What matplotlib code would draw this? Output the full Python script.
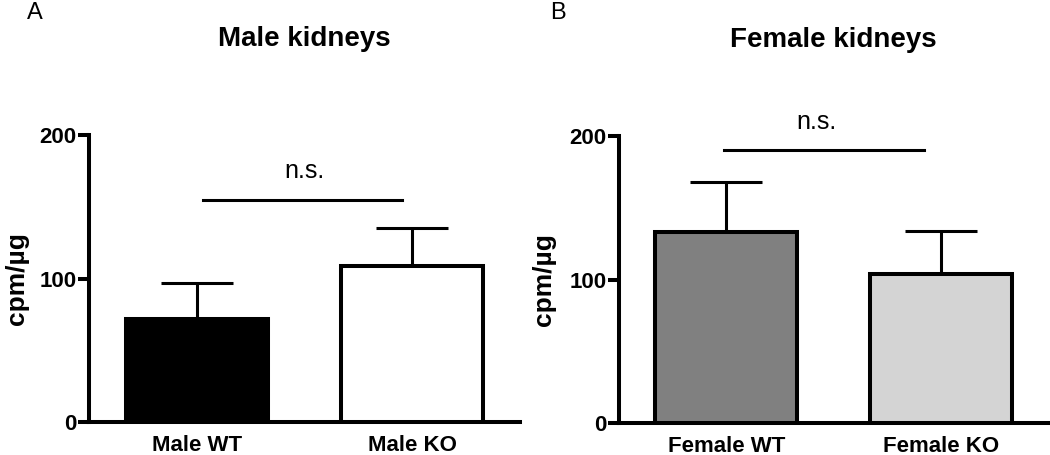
import matplotlib
matplotlib.use('Agg')
import matplotlib.pyplot as plt
import numpy as np

plt.rcParams['font.family'] = ['Liberation Sans', 'DejaVu Sans']

# dados
grupos_m = ['Male WT', 'Male KO']
media_m = [72, 109]
erro_m = [25, 26]
cores_m = ['#000000', '#ffffff']

grupos_f = ['Female WT', 'Female KO']
media_f = [133, 104]
erro_f = [35, 30]
cores_f = ['#808080', '#d4d4d4']

sig_m = 155
sig_f = 190

fig = plt.figure(figsize=(10.5, 4.55), dpi=100)
ax1 = fig.add_axes([0.0848, 0.0725, 0.4105, 0.6308])
ax2 = fig.add_axes([0.5895, 0.0703, 0.4086, 0.6308])


def painel(ax, grupos, media, erro, cores, sig, x1, x2, xns, titulo, xlab):
    x = np.arange(len(grupos))
    ax.bar(x, media, width=0.66, color=cores, edgecolor='black', linewidth=2.9, zorder=3)
    ax.errorbar(x, media, yerr=[[0] * len(erro), erro], fmt='none', ecolor='black',
                elinewidth=2.2, capsize=26, capthick=2.2, zorder=2)
    ax.plot([x1, x2], [sig, sig], color='black', linewidth=2.2, clip_on=False)
    ax.text(xns, sig + 20, 'n.s.', ha='center', va='center', fontsize=18, clip_on=False)
    ax.set_xlim(-0.5, 1.5)
    ax.set_ylim(0, 200)
    ax.set_yticks([0, 100, 200])
    ax.set_xticks(x)
    ax.set_xticklabels(grupos, fontsize=16, fontweight='bold')
    for lab in ax.get_yticklabels():
        lab.set_fontsize(16)
        lab.set_fontweight('bold')
    ax.tick_params(axis='y', length=8, width=2.9, pad=1)
    ax.tick_params(axis='x', length=0, pad=9)
    ax.spines['top'].set_visible(False)
    ax.spines['right'].set_visible(False)
    ax.spines['left'].set_linewidth(2.9)
    ax.spines['bottom'].set_linewidth(2.9)
    ax.set_ylabel('cpm/µg', fontsize=19, fontweight='bold')
    ax.yaxis.set_label_coords(xlab, 0.5)
    ax.set_title(titulo, fontsize=20, fontweight='bold', pad=64)


painel(ax1, grupos_m, media_m, erro_m, cores_m, sig_m, 0.03, 0.95, 0.5, 'Male kidneys', -0.14)
painel(ax2, grupos_f, media_f, erro_f, cores_f, sig_f, -0.01, 0.92, 0.42, 'Female kidneys', -0.147)

fig.text(27 / 1050, 1 - 2 / 455, 'A', fontsize=17, ha='left', va='top')
fig.text(550 / 1050, 1 - 2 / 455, 'B', fontsize=17, ha='left', va='top')

fig.savefig('out.png', dpi=100)
